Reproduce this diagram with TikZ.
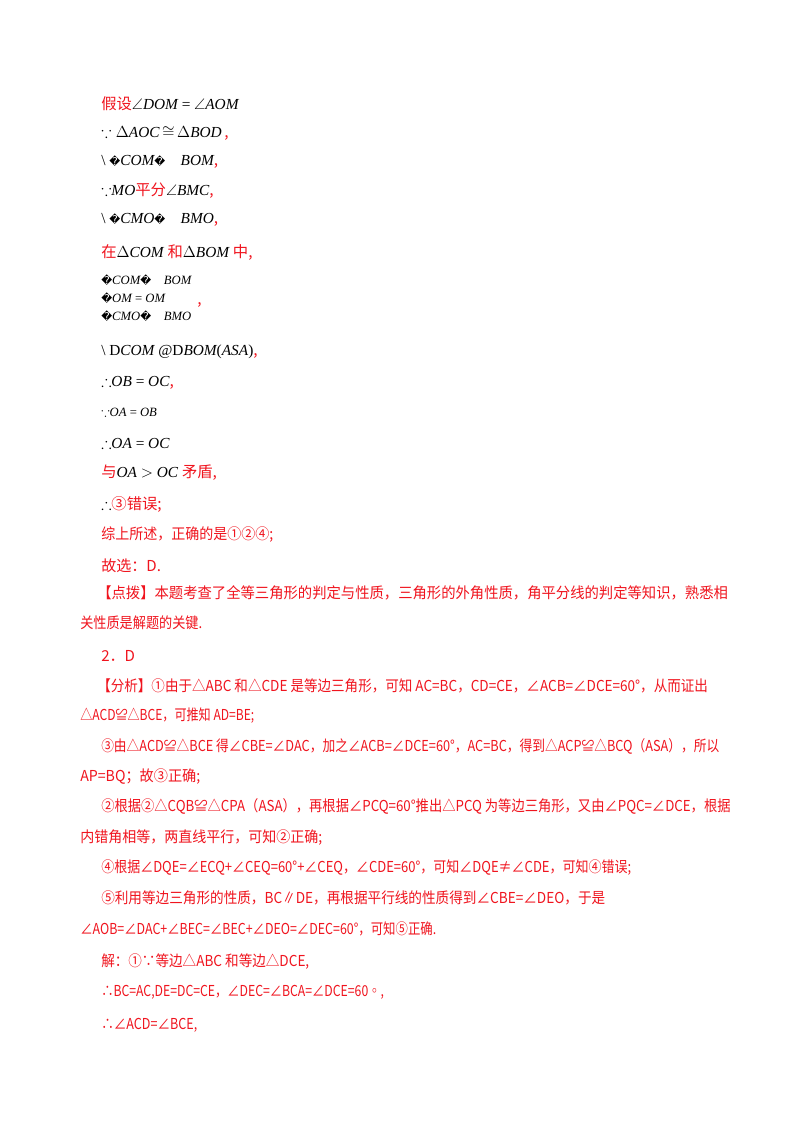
\documentclass[tikz,border=0pt]{standalone}
\usepackage{amssymb}
\usepackage{fontspec}
\setmainfont{Liberation Serif}
\newfontfamily\cjk{Noto Sans CJK SC}
\newfontfamily\djv{DejaVu Sans}
\definecolor{rd}{RGB}{240,20,30}
\newcommand{\R}[1]{{\cjk\color{rd}#1}}
\newcommand{\M}[1]{{\itshape #1}}
\newcommand{\Q}{{\djv\fontsize{8}{8}\selectfont\symbol{"FFFD}}}
\newcommand{\W}[2]{\resizebox{#1pt}{\height}{#2}}
\begin{document}
\begin{tikzpicture}[x=0.75pt,y=-0.75pt,
  ln/.style={anchor=west,inner sep=0pt,font=\fontsize{11.5}{12}\selectfont},
  rl/.style={ln,font=\cjk\fontsize{11.3}{12}\selectfont,text=rd}]
\useasboundingbox (0,0) rectangle (800,1132);
\fill[white] (0,0) rectangle (800,1132);
\node[ln] (l1) at (101,104) {\R{假设}$\angle$\M{DOM} = $\angle$\M{AOM}};
\node[ln] (l2) at (101,133) {$\because\Delta$\M{AOC}\,$\cong$\,$\Delta$\M{BOD}\,\R{,}};
\node[ln] (l3) at (101,162) {\textbackslash{} \Q\M{COM}\Q\quad\M{BOM}\R{,}};
\node[ln] (l4) at (101,191) {$\because$\M{MO}\R{平分}$\angle$\M{BMC}\R{,}};
\node[ln] (l5) at (101,220) {\textbackslash{} \Q\M{CMO}\Q\quad\M{BMO}\R{,}};
\node[ln] (l6) at (101,253) {\R{在}$\Delta$\M{COM} \R{和}$\Delta$\M{BOM} \R{中,}};
\node[ln,font=\fontsize{9.5}{10}\selectfont] (l7a) at (101,280) {\Q\M{COM}\Q\quad\M{BOM}};
\node[ln,font=\fontsize{9.5}{10}\selectfont] (l7b) at (101,298) {\Q\M{OM} = \M{OM}};
\node[ln,font=\fontsize{9.5}{10}\selectfont] (l7c) at (101,316) {\Q\M{CMO}\Q\quad\M{BMO}};
\node[ln] (l7d) at (197,305) {\R{,}};
\node[ln] (l8) at (101,352) {\textbackslash{} D\M{COM} @D\M{BOM}(\M{ASA})\R{,}};
\node[ln] (l9) at (101,383) {$\therefore$\M{OB} = \M{OC}\R{,}};
\node[ln,font=\fontsize{9.5}{10}\selectfont] (l10) at (101,412) {$\because$\M{OA} = \M{OB}};
\node[ln] (l11) at (101,443) {$\therefore$\M{OA} = \M{OC}};
\node[ln] (l12) at (101,473) {\R{与}\M{OA} $>$ \M{OC} \R{矛盾,}};
\node[ln] (l13) at (101,504) {$\therefore$\R{③错误;}};
\node[rl] (l14) at (101,535) {\W{129}{综上所述，正确的是①②④;}};
\node[rl] (l15) at (101,566) {故选：D.};
\node[rl] (l16) at (97,593) {\W{473}{【点拨】本题考查了全等三角形的判定与性质，三角形的外角性质，角平分线的判定等知识，熟悉相}};
\node[rl] (l17) at (80,623) {\W{91.5}{关性质是解题的关键.}};
\node[rl] (l18) at (101,656) {2．D};
\node[rl] (l19) at (97,686) {\W{458}{【分析】①由于△ABC 和△CDE 是等边三角形，可知 AC=BC，CD=CE，∠ACB=∠DCE=60°，从而证出}};
\node[rl] (l20) at (80,716) {\W{130.5}{△ACD≌△BCE，可推知 AD=BE;}};
\node[rl] (l21) at (101,746) {\W{463.5}{③由△ACD≌△BCE 得∠CBE=∠DAC，加之∠ACB=∠DCE=60°，AC=BC，得到△ACP≌△BCQ（ASA），所以}};
\node[rl] (l22) at (80,777) {\W{90}{AP=BQ；故③正确;}};
\node[rl] (l23) at (101,806) {\W{472}{②根据②△CQB≌△CPA（ASA），再根据∠PCQ=60°推出△PCQ 为等边三角形，又由∠PQC=∠DCE，根据}};
\node[rl] (l24) at (80,838) {\W{181.5}{内错角相等，两直线平行，可知②正确;}};
\node[rl] (l25) at (101,868) {\W{397.5}{④根据∠DQE=∠ECQ+∠CEQ=60°+∠CEQ，∠CDE=60°，可知∠DQE≠∠CDE，可知④错误;}};
\node[rl] (l26) at (101,898) {\W{378}{⑤利用等边三角形的性质，BC∥DE，再根据平行线的性质得到∠CBE=∠DEO，于是}};
\node[rl] (l27) at (80,929) {\W{267}{∠AOB=∠DAC+∠BEC=∠BEC+∠DEO=∠DEC=60°，可知⑤正确.}};
\node[rl] (l28) at (101,962) {\W{156}{解：①∵等边△ABC 和等边△DCE,}};
\node[rl] (l29) at (101,992) {\W{212}{∴BC=AC,DE=DC=CE，∠DEC=∠BCA=∠DCE=60◦,}};
\node[rl] (l30) at (101,1025) {\W{72}{∴∠ACD=∠BCE,}};
\end{tikzpicture}
\end{document}
